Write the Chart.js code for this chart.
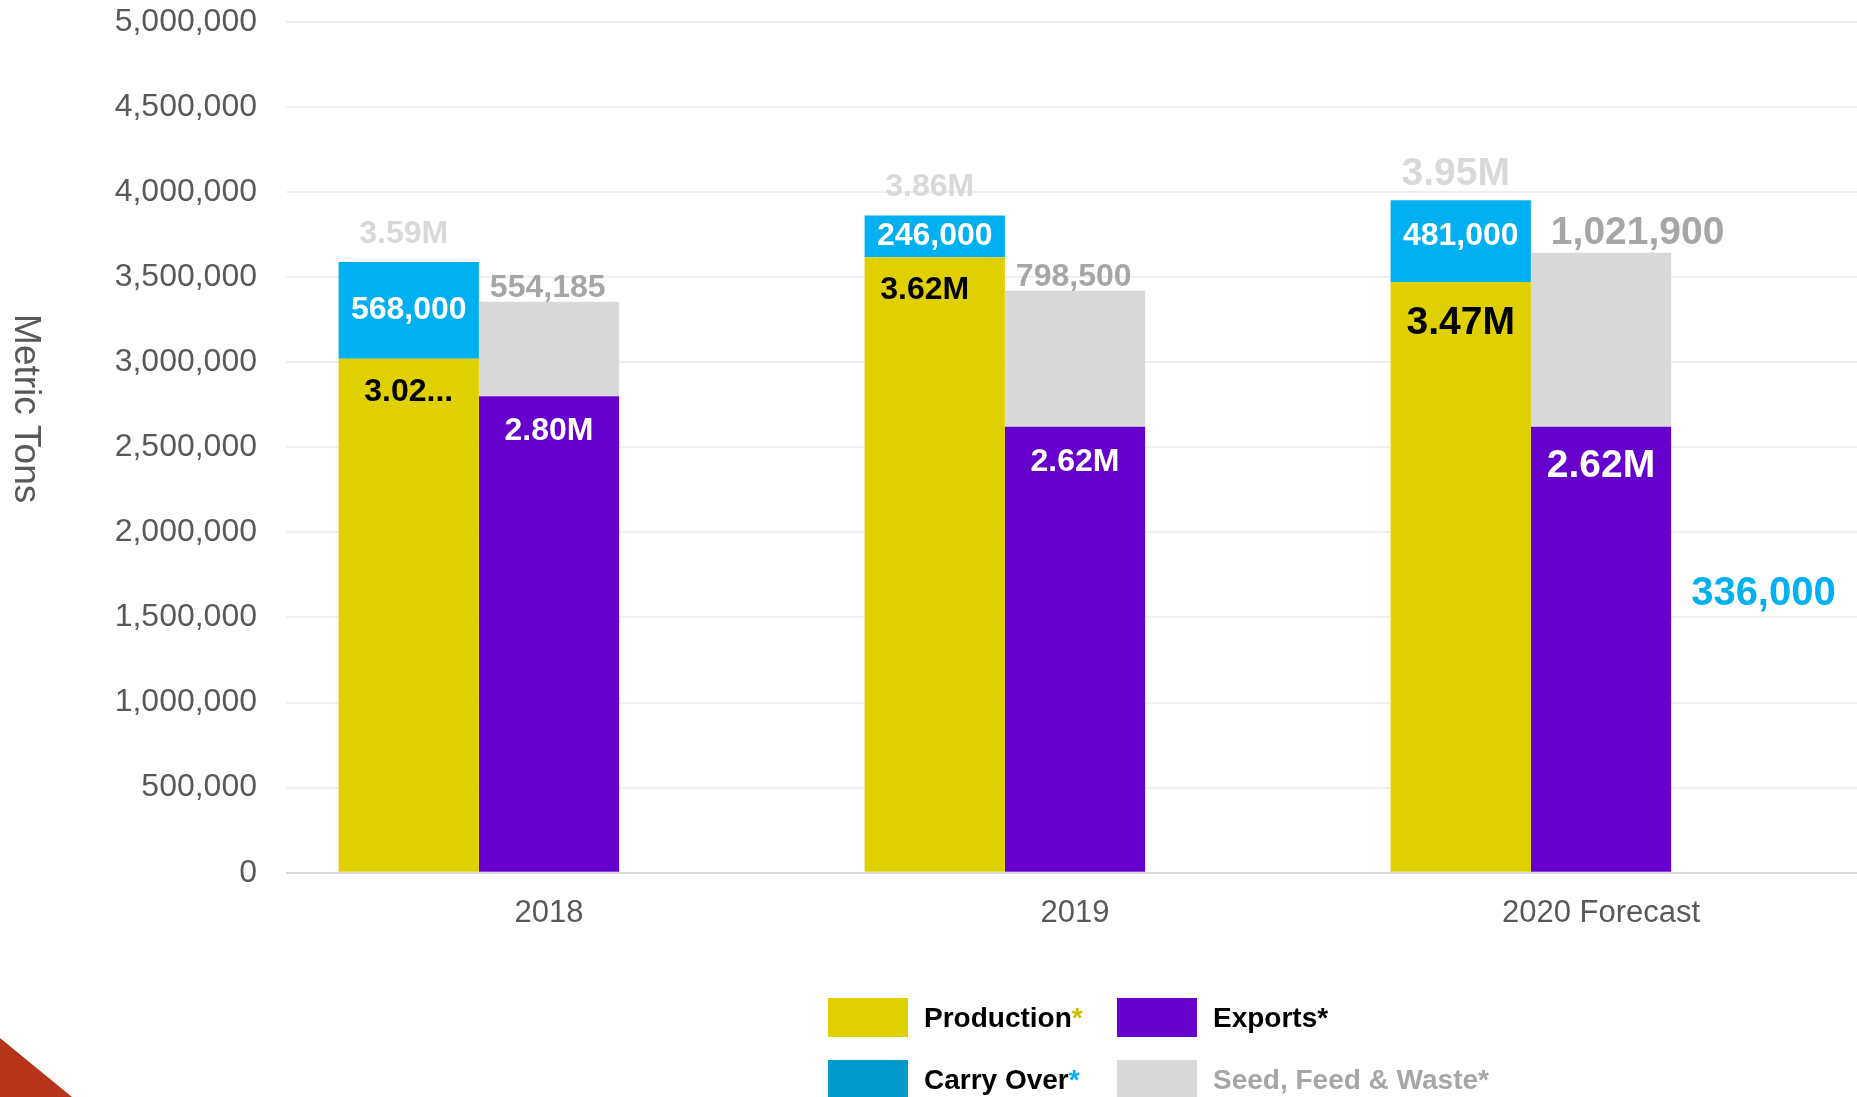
<!DOCTYPE html>
<html>
<head>
<meta charset="utf-8">
<script src="https://cdn.jsdelivr.net/npm/chart.js@4.4.1/dist/chart.umd.min.js"></script>
<style>
  html, body { margin: 0; padding: 0; background: #fff; overflow: hidden; }
  #wrap { position: relative; width: 1864px; height: 1097px; }
  #chart { display: block; }
  .corner { position: absolute; left: 0; bottom: 0; width: 72px; height: 59px;
    background: #b5341a; clip-path: polygon(0 0, 100% 100%, 0 100%); }
  .legend-item { position: absolute; display: flex; align-items: center;
    font: bold 28px "Liberation Sans", Arial, sans-serif; }
  .legend-item .box { width: 80px; height: 39px; margin-right: 16px; }
</style>
</head>
<body>
<div id="wrap">
  <canvas id="chart" width="1864" height="1097"></canvas>
  <div class="corner"></div>
</div>
<script>
// data
const years = ["2018", "2019", "2020 Forecast"];
const production = [3020000, 3616000, 3470000];
const exportsT = [2800000, 2620000, 2620000];
const carryOver = [568000, 246000, 481000];
const seedFeedWaste = [554185, 798500, 1021900];
const endingCarry = [null, null, 336000];

// colours
const barColors = ["#e0d000", "#6600cc", "#00b0f0", "#d9d9d9"];
const legendBoxColors = ["#e0d000", "#6600cc", "#0099cc", "#d9d9d9"];
const legendTextColors = ["#000", "#000", "#000", "#a6a6a6"];
const legendStarColors = ["#cbbd00", "#000", "#00b0f0", "#a6a6a6"];

const fmtM = v => (v / 1e6).toFixed(2) + "M";
const fmtN = v => v.toLocaleString("en-US");

// production label for 2018 is cut short in the original
const productionLabels = production.map(fmtM);
productionLabels[0] = productionLabels[0].slice(0, 4) + "...";

const FONT = '"Liberation Sans", Arial, sans-serif';
Chart.defaults.font.family = FONT;

const barLabels = {
  id: "barLabels",
  afterDatasetsDraw(chart) {
    const { ctx, chartArea, scales } = chart;
    const text = (str, x, y, size, color, align = "center", weight = "bold") => {
      ctx.save();
      ctx.font = `${weight} ${size}px ${FONT}`;
      ctx.fillStyle = color;
      ctx.textAlign = align;
      ctx.textBaseline = "middle";
      ctx.fillText(str, x, y);
      ctx.restore();
    };
    const bar = (ds, i) => chart.getDatasetMeta(ds).data[i];

    years.forEach((_, i) => {
      const big = i === 2;
      const fs = big ? 39 : 32;
      const p = bar(0, i), e = bar(1, i), c = bar(2, i), s = bar(3, i);
      text(productionLabels[i], p.x - (i === 1 ? 10 : 0), p.y + (big ? 41 : 33), fs, "#000");
      text(fmtM(exportsT[i]), e.x, e.y + (big ? 39 : 35), fs, "#fff");
      text(fmtN(carryOver[i]), c.x, (c.y + c.base) / 2 - (big ? 5 : 0), 32, "#fff");
      text(fmtN(seedFeedWaste[i]), s.x - s.width / 2 + (big ? 20 : 11), s.y - (big ? 20 : 14), fs, "#a6a6a6", "left");
      text(fmtM(production[i] + carryOver[i]), c.x - 5, c.y - (big ? 26 : 28), fs, "#d9d9d9");
    });

    // ending carry-over, third slot of the forecast year
    const k = bar(4, 2);
    text(fmtN(endingCarry[2]), k.x - k.width / 2 + 20, scales.y.getPixelForValue(1640000), 40, "#00b0f0", "left");

    // axis title, reading top to bottom
    ctx.save();
    ctx.translate(25, chartArea.top + 387);
    ctx.rotate(Math.PI / 2);
    ctx.font = `37px ${FONT}`;
    ctx.fillStyle = "#595959";
    ctx.textAlign = "center";
    ctx.textBaseline = "middle";
    ctx.fillText("Metric Tons", 0, 0);
    ctx.restore();
  }
};

const chart = new Chart(document.getElementById("chart"), {
  type: "bar",
  data: {
    labels: years,
    datasets: [
      { label: "Production", data: production, stack: "a", backgroundColor: barColors[0] },
      { label: "Exports", data: exportsT, stack: "b", backgroundColor: barColors[1] },
      { label: "Carry Over", data: carryOver, stack: "a", backgroundColor: barColors[2] },
      { label: "Seed, Feed & Waste", data: seedFeedWaste, stack: "b", backgroundColor: barColors[3] },
      { label: "Ending", data: endingCarry, stack: "c", backgroundColor: "rgba(0,0,0,0)" }
    ]
  },
  options: {
    responsive: false,
    animation: false,
    categoryPercentage: 0.8,
    barPercentage: 1,
    borderWidth: 0,
    layout: { padding: { top: 21.7, bottom: 164.3, left: 0, right: 0 } },
    plugins: { legend: { display: false }, tooltip: { enabled: false } },
    scales: {
      x: {
        stacked: true,
        grid: { display: false, drawTicks: false },
        border: { display: false },
        ticks: { color: "#595959", font: { size: 31 }, padding: 22 },
        afterFit: s => { s.height = 60; s.paddingLeft = 0; s.paddingRight = 0; }
      },
      y: {
        stacked: true,
        min: 0,
        max: 5000000,
        grid: {
          color: c => (c.tick.value === 0 ? "#d9d9d9" : "#efefef"),
          lineWidth: 2,
          drawTicks: false
        },
        border: { display: false },
        ticks: {
          stepSize: 500000,
          color: "#595959",
          font: { size: 32 },
          padding: 29,
          callback: v => fmtN(v)
        },
        afterFit: s => { s.width = 286; s.paddingTop = 0; s.paddingBottom = 0; }
      }
    }
  },
  plugins: [barLabels]
});

// legend (2 x 2)
const wrap = document.getElementById("wrap");
const cols = [828, 1117], rows = [998, 1060];
chart.data.datasets.slice(0, 4).forEach((ds, i) => {
  const item = document.createElement("div");
  item.className = "legend-item";
  item.style.left = cols[i % 2] + "px";
  item.style.top = rows[Math.floor(i / 2)] + "px";
  item.innerHTML = `<div class="box" style="background:${legendBoxColors[i]}"></div>` +
    `<span style="color:${legendTextColors[i]}">${ds.label.replace("&", "&amp;")}` +
    `<span style="color:${legendStarColors[i]}">*</span></span>`;
  wrap.appendChild(item);
});
</script>
</body>
</html>
